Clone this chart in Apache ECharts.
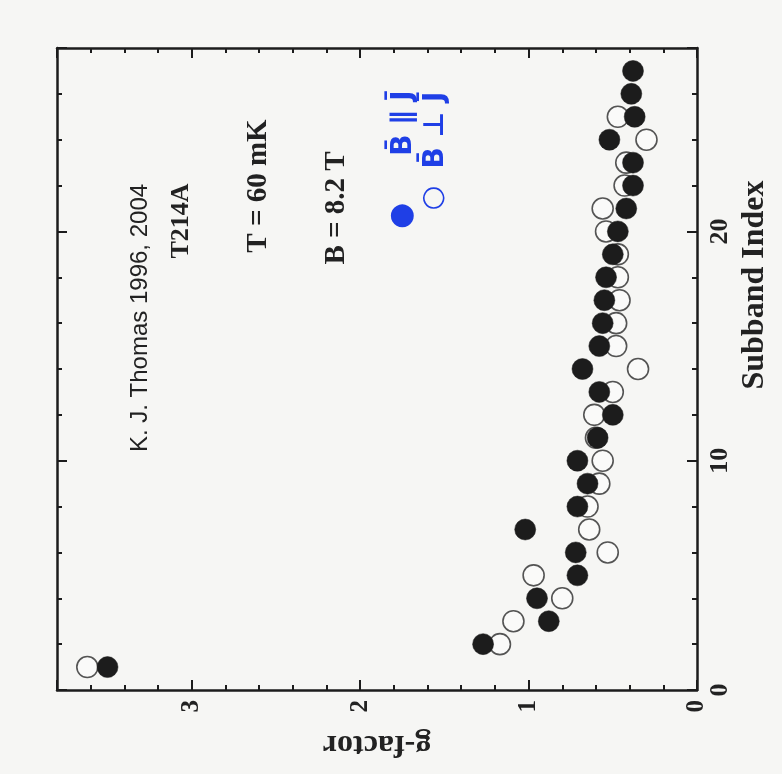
<!DOCTYPE html>
<html><head><meta charset="utf-8">
<script src="https://cdn.jsdelivr.net/npm/echarts@6/dist/echarts.min.js"></script>
<style>html,body{margin:0;padding:0;background:#f6f6f4}#c{width:782px;height:774px}</style>
</head><body><div id="c"></div>
<script>
// Subband index (horizontal in original figure, drawn rotated)
const subbandFilled = [1,2,3,4,5,6,7,8,9,10,11,12,13,14,15,16,17,18,19,20,21,22,23,24,25,26,27];
const gFilled = [3.50,1.27,0.88,0.95,0.71,0.72,1.02,0.71,0.65,0.71,0.59,0.50,0.58,0.68,0.58,0.56,0.55,0.54,0.50,0.47,0.42,0.38,0.38,0.52,0.37,0.39,0.38];
const subbandOpen = [1,2,3,4,5,6,7,8,9,10,11,12,13,14,15,16,17,18,19,20,21,22,23,24,25];
const gOpen = [3.62,1.17,1.09,0.80,0.97,0.53,0.64,0.65,0.58,0.56,0.60,0.61,0.50,0.35,0.48,0.48,0.46,0.47,0.47,0.54,0.56,0.43,0.42,0.30,0.47];
const gTicks = [0,1,2,3];
const subbandTicks = [0,10,20];
const seriesNames = ['B\u0304 \u2225 J\u0304', 'B\u0304 \u22A5 J\u0304'];
const notes = ['K. J. Thomas 1996, 2004', 'T214A', 'T = 60 mK', 'B = 8.2 T'];

const filledPts = subbandFilled.map((s,i)=>[gFilled[i], s]);
const openPts = subbandOpen.map((s,i)=>[gOpen[i], s]);

const lineCol = '#1c1c1c';
const serif = '"Liberation Serif","DejaVu Serif",serif';
function xAx(pos, interval, major, labels){
  return {
    type:'value', position:pos, inverse:true, min:0, max:3.8, interval:interval,
    axisLine:{show:major, onZero:false, lineStyle:{color:lineCol, width:2.5}},
    axisTick:{show:true, inside:true, length: major?10:5, lineStyle:{color:lineCol, width:2}},
    axisLabel:{show:labels, rotate:90, margin:10, fontSize:25, fontWeight:'bold', fontFamily:serif, color:'#222',
      formatter:v=> gTicks.indexOf(v)>=0 ? String(v) : ''},
    splitLine:{show:false},
    name: labels ? 'g-factor' : '', nameLocation:'middle', nameGap:38, nameRotate:180,
    nameTextStyle:{fontSize:32, fontWeight:'bold', fontFamily:serif, color:'#222'}
  };
}
function yAx(pos, interval, major, labels){
  return {
    type:'value', position:pos, min:0, max:28, interval:interval,
    axisLine:{show:major, onZero:false, lineStyle:{color:lineCol, width:2.5}},
    axisTick:{show:true, inside:true, length: major?10:5, lineStyle:{color:lineCol, width:2}},
    axisLabel:{show:labels, rotate:90, margin:10, fontSize:26, fontWeight:'bold', fontFamily:serif, color:'#222',
      formatter:v=> subbandTicks.indexOf(v)>=0 ? String(v) : ''},
    splitLine:{show:false}
  };
}
function txt(x,y,text,font,fill){
  return {type:'text', x:x, y:y, rotation:Math.PI/2, silent:true,
    style:{text:text, x:0, y:0, font:font, fill:fill, align:'center', verticalAlign:'middle', textAlign:'center', textVerticalAlign:'middle'}};
}
const blue = '#1f3fe6';
const chart = echarts.init(document.getElementById('c'));
chart.setOption({
  backgroundColor:'#f6f6f4',
  animation:false,
  grid:{left:57, right:85, top:48, bottom:84},
  xAxis:[xAx('bottom',1,true,true), xAx('bottom',0.2,false,false), xAx('top',1,true,false), xAx('top',0.2,false,false)],
  yAxis:[yAx('right',10,true,true), yAx('right',2,false,false), yAx('left',10,true,false), yAx('left',2,false,false)],
  series:[
    {name:seriesNames[1], type:'scatter', xAxisIndex:0, yAxisIndex:0, data:openPts, symbol:'circle', symbolSize:21,
     itemStyle:{color:'#fbfbfa', borderColor:'#2a2a2a', borderWidth:1.6}},
    {name:seriesNames[0], type:'scatter', xAxisIndex:0, yAxisIndex:0, data:filledPts, symbol:'circle', symbolSize:21,
     itemStyle:{color:'#1c1c1c', borderColor:'#1c1c1c', borderWidth:0.5, opacity:1}}
  ],
  graphic:[
    txt(140,318,notes[0],'24px "Liberation Sans",Arial,sans-serif','#222'),
    txt(181,221,notes[1],'bold 26px "Liberation Serif",serif','#222'),
    txt(259,186,notes[2],'bold 29px "Liberation Serif",serif','#222'),
    txt(337,208,notes[3],'bold 29px "Liberation Serif",serif','#222'),
    txt(402,216,'\u25CF','30px "DejaVu Sans",sans-serif',blue),
    txt(404,123,seriesNames[0],'bold 28px "DejaVu Sans",sans-serif',blue),
    txt(434,198,'\u25CB','bold 28px "DejaVu Sans",sans-serif',blue),
    txt(436,130,seriesNames[1],'bold 28px "DejaVu Sans",sans-serif',blue),
    txt(755,285,'Subband Index','bold 32px "Liberation Serif",serif','#222')
  ]
});
</script></body></html>
